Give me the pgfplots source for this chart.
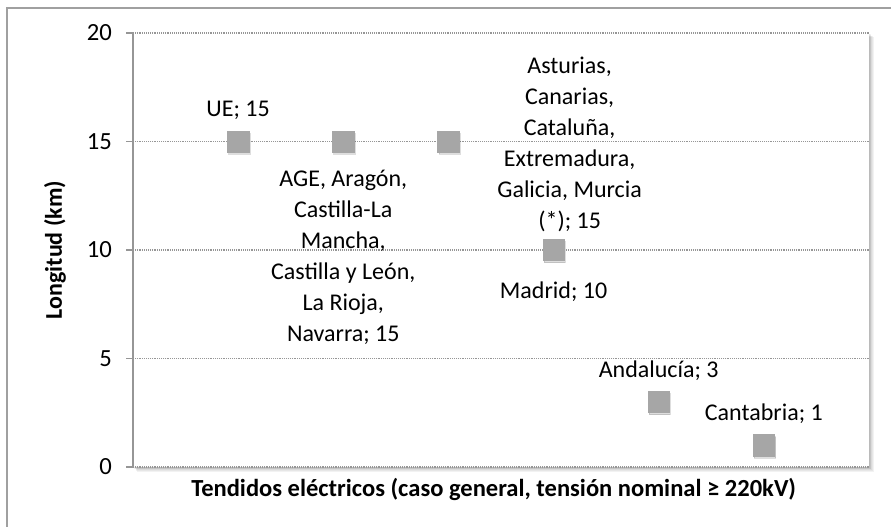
\documentclass[border=0pt]{standalone}
\usepackage{fontspec}
\setmainfont{Carlito}
\usepackage{pgfplots}
\pgfplotsset{compat=1.18}

\definecolor{markgray}{RGB}{166,166,166}
\definecolor{linegray}{RGB}{150,150,150}
\definecolor{framegray}{RGB}{160,160,160}

\begin{document}
\begin{tikzpicture}[lbl/.style={font=\fontsize{18}{23.3}\selectfont, align=center, inner sep=0pt}]
\useasboundingbox (0,0) rectangle (668.25pt,395.25pt);
% outer chart frame (cropped on the right and bottom)
\draw[framegray, line width=1.5pt] (5.25pt,-5pt) -- (5.25pt,389.25pt) -- (675pt,389.25pt);
% soft shadow of the plot area
\foreach \i in {1,...,6}
  \fill[black, opacity=0.05] (99.75pt+\i*0.5pt,45pt-\i*0.6pt) rectangle (651.75pt+\i*0.6pt,370.5pt-\i*0.5pt);

\begin{axis}[
    at={(99.75pt,45pt)}, anchor=south west,
    width=552pt, height=325.5pt, scale only axis,
    axis background/.style={fill=white},
    xmin=0, xmax=7, ymin=0, ymax=20,
    axis x line=none, axis y line=left,
    axis line style={-, linegray, line width=0.8pt},
    xtick=\empty,
    ytick={0,5,10,15,20},
    yticklabels={0,5,10,15,20},
    tick align=outside, major tick length=5.25pt,
    ytick style={linegray, line width=0.8pt},
    ymajorgrids,
    grid style={densely dotted, linegray, line width=0.8pt},
    yticklabel style={font=\fontsize{18.5}{22}\selectfont, xshift=-7pt},
    ylabel={Longitud (km)},
    ylabel style={font=\fontsize{18}{22}\selectfont\bfseries, at={(axis description cs:-0.106,0.5)}, anchor=center},
    clip=false,
]

% marker shadows
\addplot[only marks, mark=square*, mark size=8pt, black, opacity=0.13, xshift=0.8pt, yshift=-1.5pt]
  coordinates {(1,15) (2,15) (3,15) (4,10) (5,3) (6,1)};
\addplot[only marks, mark=square*, mark size=8pt, markgray]
  coordinates {(1,15) (2,15) (3,15) (4,10) (5,3) (6,1)};

% data labels
\node[lbl, anchor=base, yshift=18.5pt] at (axis cs:1,15) {UE; 15};
\node[lbl, anchor=north, yshift=-21pt] at (axis cs:2,15)
  {AGE, Aragón,\\Castilla-La\\Mancha,\\Castilla y León,\\La Rioja,\\Navarra; 15};
\node[lbl, anchor=west, xshift=36.5pt, yshift=-2pt] at (axis cs:3,15)
  {Asturias,\\Canarias,\\Cataluña,\\Extremadura,\\Galicia, Murcia\\(*); 15};
\node[lbl, anchor=north, yshift=-24pt] at (axis cs:4,10) {Madrid; 10};
\node[lbl, anchor=base, yshift=18pt] at (axis cs:5,3) {Andalucía; 3};
\node[lbl, anchor=base, yshift=18.5pt] at (axis cs:6,1) {Cantabria; 1};

% axis title under the plot area
\node[font=\fontsize{18.4}{22}\selectfont\bfseries, anchor=base, inner sep=0pt, yshift=-22pt]
  at (axis description cs:0.49,0) {Tendidos eléctricos (caso general, tensión nominal ≥ 220kV)};

\end{axis}
\end{tikzpicture}
\end{document}
